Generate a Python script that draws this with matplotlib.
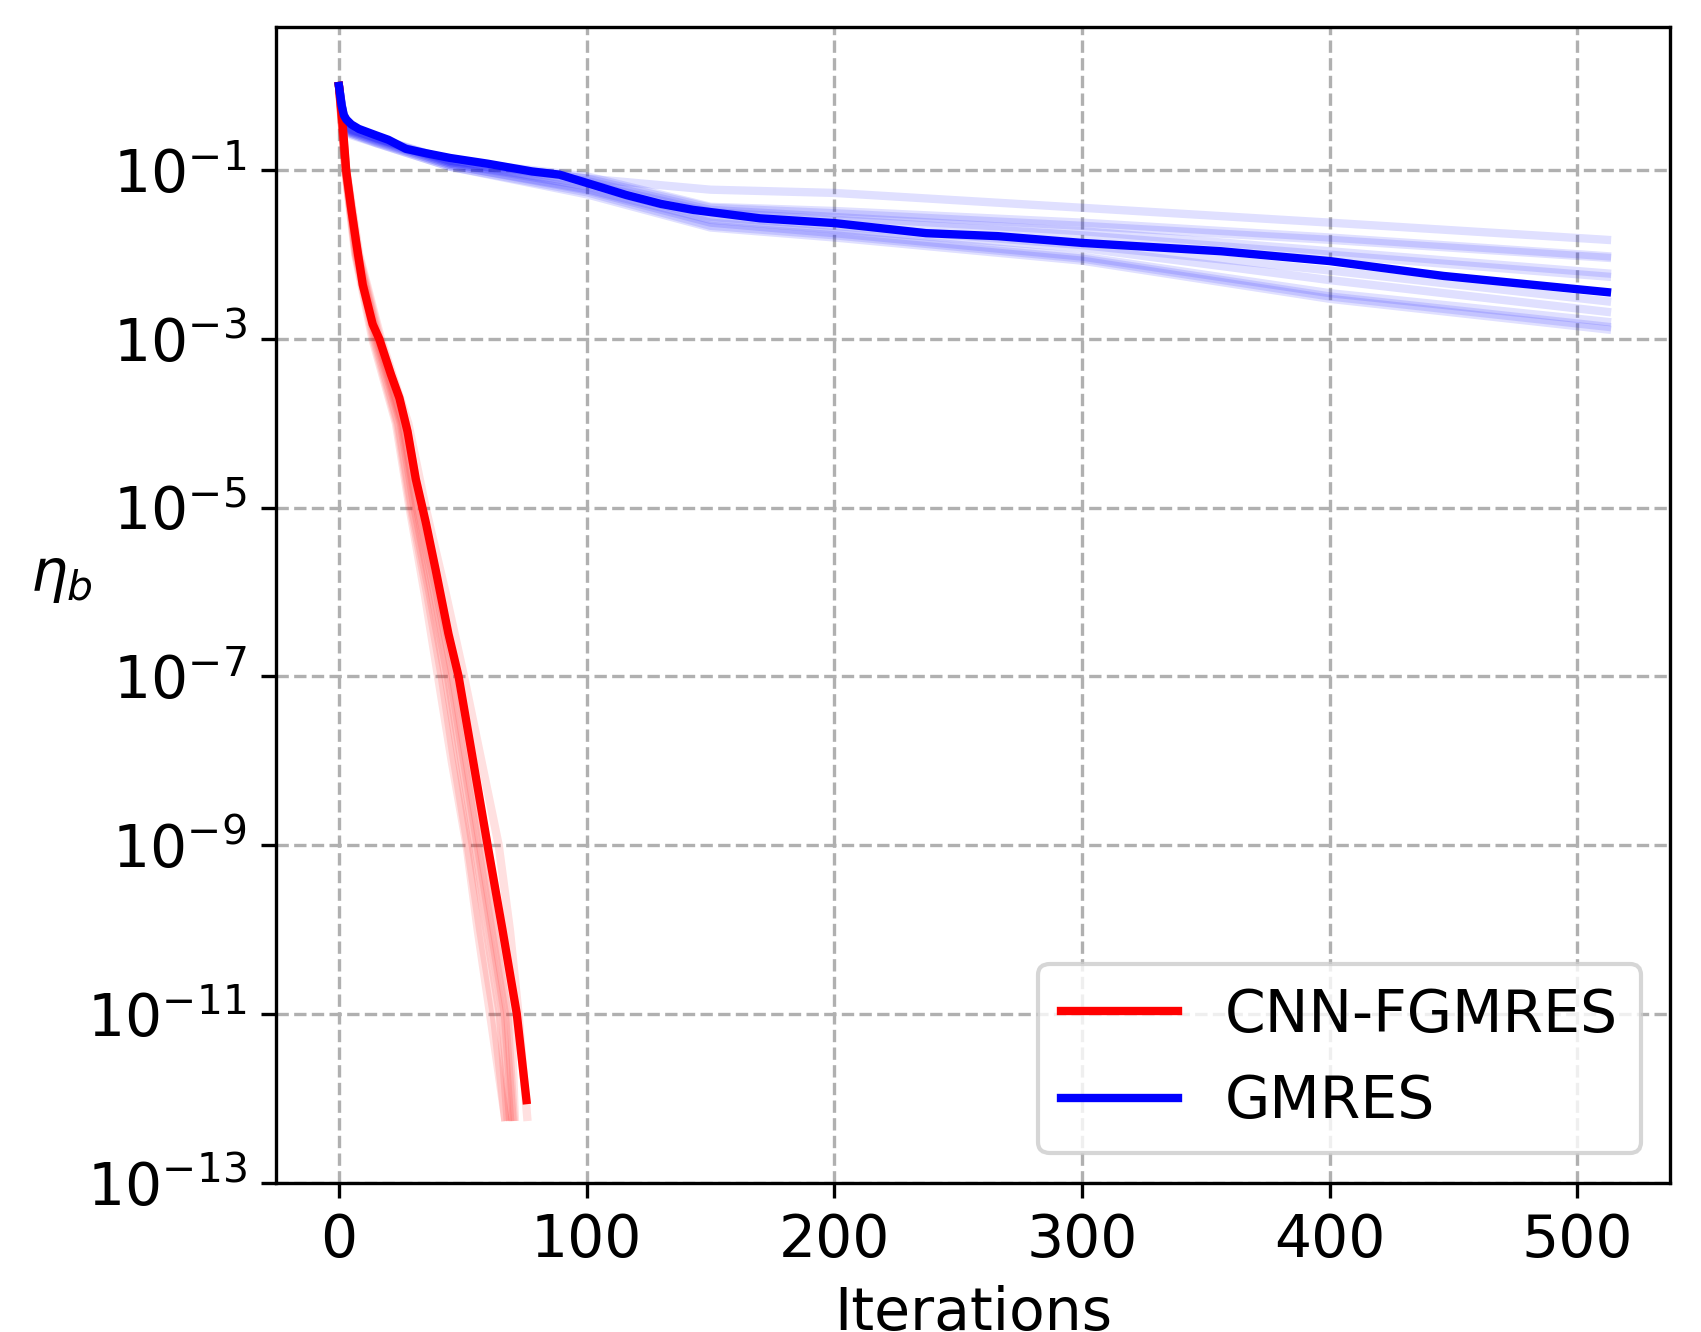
import numpy as np
import matplotlib
matplotlib.use("Agg")
import matplotlib.pyplot as plt
from matplotlib.ticker import NullLocator

# ---- data ----

# residual levels at which the CNN-FGMRES runs are tracked
cnn_levels = [1.0, 1e-1, 1e-2, 1e-3, 1e-4, 1e-5, 1e-6, 1e-7, 1e-8, 1e-9, 1e-10, 1e-11, 6e-13]

# iterations needed by each individual CNN-FGMRES run to reach those levels
cnn_runs = [
    [0, 2.8, 7.5, 15.5, 25.5, 31.5, 38.5, 45.0, 50.5, 56.0, 61.5, 67.0, 70],
    [0, 2.7, 7.2, 15.0, 25.0, 30.5, 37.5, 44.0, 49.5, 55.0, 60.5, 66.0, 69],
    [0, 2.7, 7.0, 14.5, 24.0, 29.5, 36.5, 43.0, 48.5, 54.0, 59.5, 65.0, 68],
    [0, 2.6, 6.8, 14.0, 23.5, 29.0, 35.5, 41.5, 46.5, 52.0, 57.0, 62.5, 67],
    [0, 2.8, 7.6, 16.0, 26.0, 32.0, 39.5, 46.0, 51.5, 57.0, 62.5, 68.0, 70.5],
    [0, 3.0, 8.2, 17.0, 28.0, 35.0, 43.0, 50.5, 57.5, 64.5, 69.0, 72.5, 76],
    [0, 2.5, 6.6, 13.5, 23.0, 28.5, 34.5, 40.0, 45.5, 51.5, 56.0, 61.0, 67],
    [0, 2.9, 7.9, 16.5, 27.0, 33.0, 40.0, 47.5, 53.0, 58.5, 64.0, 69.5, 71],
]

# highlighted CNN-FGMRES run
cnn_iters = [0, 1.5, 2.9, 4.9, 6.9, 9.6, 13.6, 16.3, 21, 24.4, 27.7, 31, 33.7,
             35.1, 39.1, 44.2, 48.3, 53.3, 60, 66, 71.8, 75.7]
cnn_eta = [1.0, 0.35, 0.1, 0.036, 0.0144, 0.0044, 0.0015, 1e-3, 3.8e-4, 2e-4,
           8e-5, 2.2e-5, 1e-5, 6.6e-6, 1.8e-6, 3.2e-7, 1e-7, 1.4e-8, 1e-9,
           1e-10, 1e-11, 9.5e-13]

# iterations at which the GMRES runs are sampled
gmres_run_iters = [0, 2, 5, 15, 45, 100, 150, 200, 300, 400, 512]

gmres_runs = [
    [1.0, 0.42, 0.31, 0.24, 0.13, 0.080, 0.059, 0.054, 0.036, 0.024, 0.015],
    [1.0, 0.41, 0.30, 0.245, 0.13, 0.085, 0.037, 0.033, 0.024, 0.016, 0.0096],
    [1.0, 0.40, 0.30, 0.24, 0.125, 0.080, 0.036, 0.031, 0.022, 0.015, 0.0092],
    [1.0, 0.40, 0.29, 0.235, 0.125, 0.075, 0.034, 0.028, 0.019, 0.011, 0.0060],
    [1.0, 0.39, 0.29, 0.23, 0.12, 0.070, 0.032, 0.026, 0.017, 0.010, 0.0055],
    [1.0, 0.38, 0.28, 0.225, 0.12, 0.065, 0.028, 0.022, 0.013, 0.0065, 0.0028],
    [1.0, 0.38, 0.28, 0.22, 0.115, 0.060, 0.026, 0.020, 0.012, 0.0050, 0.0021],
    [1.0, 0.37, 0.27, 0.215, 0.115, 0.058, 0.024, 0.018, 0.0095, 0.0035, 0.0016],
    [1.0, 0.37, 0.27, 0.21, 0.11, 0.055, 0.022, 0.017, 0.0090, 0.0032, 0.0014],
    [1.0, 0.36, 0.26, 0.21, 0.11, 0.052, 0.021, 0.016, 0.0085, 0.0030, 0.0013],
]

# highlighted GMRES run
gmres_iters = [0, 1, 2, 3, 5, 8, 15, 20, 27, 35, 45, 60, 78, 89, 100, 116, 130,
               143, 170, 200, 237, 266, 300, 356, 400, 446, 500, 512]
gmres_eta = [1.0, 0.6, 0.45, 0.4, 0.35, 0.31, 0.26, 0.23, 0.18, 0.16, 0.14, 0.12,
             0.097, 0.089, 0.071, 0.051, 0.040, 0.034, 0.027, 0.0237, 0.018,
             0.0166, 0.0138, 0.011, 0.0084, 0.0056, 0.0039, 0.0036]

y_ticks = [1e-13, 1e-11, 1e-9, 1e-7, 1e-5, 1e-3, 1e-1]

# ---- plot ----
plt.rcParams["font.size"] = 14

fig = plt.figure(figsize=(1701 / 300, 1332 / 300), dpi=300)
ax = fig.add_axes([0.162, 0.1122, 0.820, 0.8675])

for run in gmres_runs:
    ax.plot(gmres_run_iters, run, color="blue", alpha=0.12, lw=2)
for run in cnn_runs:
    ax.plot(run, cnn_levels, color="red", alpha=0.12, lw=2)

ax.plot(cnn_iters, cnn_eta, color="red", lw=2, label="CNN-FGMRES")
ax.plot(gmres_iters, gmres_eta, color="blue", lw=2, label="GMRES")

ax.set_yscale("log")
ax.set_ylim(1e-13, 5)
ax.set_yticks(y_ticks)
ax.yaxis.set_minor_locator(NullLocator())
ax.set_xlim(-25.6, 537.6)

ax.grid(True, linestyle="--")
ax.set_xlabel("Iterations")
ax.set_ylabel(r"$\eta_b$", rotation=0, labelpad=6)
ax.legend(loc="lower right")

fig.savefig("out.png", dpi=300)
